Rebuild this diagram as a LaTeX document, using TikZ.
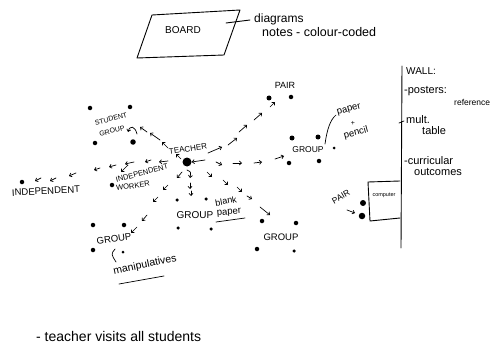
\documentclass[tikz,border=0pt]{standalone}
\usepackage{fontspec}
\setsansfont{Liberation Sans}
\usetikzlibrary{arrows.meta}
\begin{document}
\begin{tikzpicture}[x=1pt,y=-1pt,line cap=round,line join=round,
  pen/.style={line width=0.9pt},
  arr/.style={line width=0.7pt,-{Straight Barb[length=2.2pt,width=4pt]}},
  dot/.style={circle,fill=black,inner sep=0pt,minimum size=4.5pt},
  bigdot/.style={circle,fill=black,inner sep=0pt,minimum size=9pt},
  txt/.style={font=\sffamily\fontsize{#1}{#1}\selectfont,inner sep=0pt},
  txt/.default=9]
\useasboundingbox (0,0) rectangle (493,345);
\fill[white] (0,0) rectangle (493,345);

% Board
\draw[pen] (152,15) -- (240,10) -- (224,55) -- (137,58) -- cycle;
\node[txt=10] (board) at (183,30) {BOARD};
\coordinate (bx1) at (226,23);
\coordinate (bx2) at (250,20);
\draw[pen] (bx1) -- (bx2);
\node[txt=12,anchor=west] (diag) at (254,19) {diagrams};
\node[txt=12.5,anchor=west] (notes) at (262,32) {notes - colour-coded};

% Teacher
\node[bigdot] (teacher) at (187,162) {};
\node[txt=8,rotate=8] (tlabel) at (188,149) {TEACHER};
\coordinate (tp) at (205,160);
\draw[arr] (tp) -- (teacher.east);

% Up-left ray
\draw[arr] (181,159) -- (176,154);
\draw[arr] (168,148) -- (162,142);
\draw[arr] (160,140) -- (150,133);
\draw[arr] (147,132) -- (140,127);
\draw[arr] (137,134) .. controls (135,126) and (130,125) .. (128,132);

% Student group
\node[dot] (sg1) at (90,108) {};
\node[dot] (sg2) at (130,107) {};
\node[dot] (sg3) at (95,143) {};
\node[dot,minimum size=5.5pt] (sg4) at (133,142) {};
\node[txt=7,rotate=15] (sgl1) at (111,119) {STUDENT};
\node[txt=7,rotate=15] (sgl2) at (112,131) {GROUP};

% Left ray
\draw[arr] (168,161) -- (159,162);
\draw[arr] (151,160) -- (145,162);
\draw[arr] (134,162) -- (125,164);
\draw[arr] (128,165) -- (121,172);
\draw[arr] (116,165) -- (109,167);
\draw[arr] (100,168) -- (94,170);
\draw[arr] (76,173) -- (69,176);
\draw[arr] (56,178) -- (50,181);
\draw[arr] (41,178) -- (35,181);

% Independent
\node[dot] (ind) at (22,182) {};
\node[txt=9.5,rotate=3] (indl) at (46,191) {INDEPENDENT};
\node[dot] (iw) at (112,185) {};
\node[txt=7.5,rotate=15] (iwl1) at (142,173) {INDEPENDENT};
\node[txt=7.5,rotate=8] (iwl2) at (133,186) {WORKER};

% Down-left ray
\draw[arr] (182,172) -- (177,178);
\draw[arr] (187,170) .. controls (191,172) .. (190,178);
\draw[arr] (190,183) -- (190,189);
\draw[arr] (191,191) -- (191,196);
\draw[arr] (168,185) -- (163,190);
\draw[arr] (158,197) -- (153,202);
\draw[arr] (147,215) -- (142,221);
\draw[arr] (137,227) -- (131,233);

% Lower-left group
\node[dot] (lg1) at (93,225) {};
\node[dot] (lg2) at (124,225) {};
\node[dot] (lg3) at (93,250) {};
\node[dot,minimum size=3pt] (lg4) at (123,252) {};
\node[txt=9.5,rotate=8] (lgl) at (114,239) {GROUP};
\draw[pen,line width=0.7pt] (115,249) .. controls (111,254) .. (116,262);
\node[txt=10.5,rotate=12] (manip) at (145,265) {manipulatives};
\draw[pen,line width=0.7pt] (119,284) -- (164,276);

% Middle group (blank paper)
\node[dot,minimum size=3.5pt] (mg1) at (177,200) {};
\node[dot,minimum size=3.5pt] (mg2) at (206,199) {};
\node[dot,minimum size=3.5pt] (mg3) at (178,228) {};
\node[dot,minimum size=3.5pt] (mg4) at (211,229) {};
\node[txt=10] (mgl) at (195,215) {GROUP};
\node[txt=9,rotate=10] (blank) at (226,201) {blank};
\node[txt=9.5,rotate=5] (bpaper) at (229,213) {paper};
\draw[pen,line width=0.7pt] (216,222) -- (245,218);

% Right-down ray
\draw[arr] (207,172) -- (212,177);
\draw[arr] (223,180) -- (228,185);
\draw[arr] (237,187) -- (242,192);
\draw[arr] (247,196) -- (252,199);
\draw[arr] (260,207) -- (270,215);

% Lower-right group
\node[dot] (rg1) at (262,221) {};
\node[dot] (rg2) at (296,223) {};
\node[dot] (rg3) at (257,249) {};
\node[dot,minimum size=3.5pt] (rg4) at (294,251) {};
\node[txt=9.5] (rgl) at (281,237) {GROUP};

% Right ray
\draw[arr] (216,162) -- (222,165);
\draw[arr] (233,163) -- (242,163);
\draw[arr] (254,163) -- (262,162);
\draw[arr] (275,159) -- (284,156);

% Paper pencil group
\node[dot,minimum size=5pt] (pg1) at (292,138) {};
\node[dot,minimum size=5pt] (pg2) at (318,137) {};
\node[dot] (pg3) at (289,163) {};
\node[dot] (pg4) at (319,161) {};
\node[dot,minimum size=3pt] (pg5) at (334,148) {};
\node[txt=8.5] (pgl) at (308,150) {GROUP};
\draw[pen,line width=0.7pt] (325,144) .. controls (327,130) and (330,120) .. (336,115);
\node[txt=9.5,rotate=15] (ppaper) at (349,110) {paper};
\node[txt=7] (pplus) at (353,123) {+};
\node[txt=9.5,rotate=15] (ppencil) at (356,133) {pencil};

% Up-right ray
\draw[arr] (208,153) -- (222,147);
\draw[arr] (228,145) -- (237,138);
\draw[arr] (239,132) -- (247,125);
\draw[arr] (254,120) -- (262,113);
\draw[arr] (270,107) -- (275,102);

% Pair
\node[dot,minimum size=5pt] (pa1) at (269,98) {};
\node[dot] (pa2) at (291,97) {};
\node[txt=9] (pal) at (285,85) {PAIR};

% Wall
\coordinate (wt) at (402,66);
\coordinate (wb) at (401,248);
\draw[pen] (wt) -- (wb);
\node[txt=10,anchor=west] (wall) at (406,71) {WALL:};
\node[txt=11,anchor=west] (posters) at (404,91) {-posters:};
\node[txt=8.5,anchor=west] (ref) at (454,102) {reference};
\draw[pen,line width=0.7pt] (399,123) -- (404,121);
\node[txt=11,anchor=west] (mult) at (406,120) {mult.};
\node[txt=11,anchor=west] (table) at (422,131) {table};
\node[txt=11,anchor=west] (curr) at (404,161) {-curricular};
\node[txt=11,anchor=west] (outc) at (414,172) {outcomes};

% Computer
\draw[pen] (400,181) -- (368,182) -- (370,221) -- (400,218);
\node[txt=5.5] (comp) at (384,195) {computer};
\node[dot,minimum size=6pt] (cp1) at (363,203) {};
\node[dot,minimum size=6.5pt] (cp2) at (362,216) {};
\node[txt=8.5,rotate=30] (cpl) at (341,197) {PAIR};
\draw[arr] (347,210) -- (355,213);

% Bottom note
\node[txt=14,anchor=west] (visit) at (36,336) {- teacher visits all students};
\end{tikzpicture}
\end{document}
